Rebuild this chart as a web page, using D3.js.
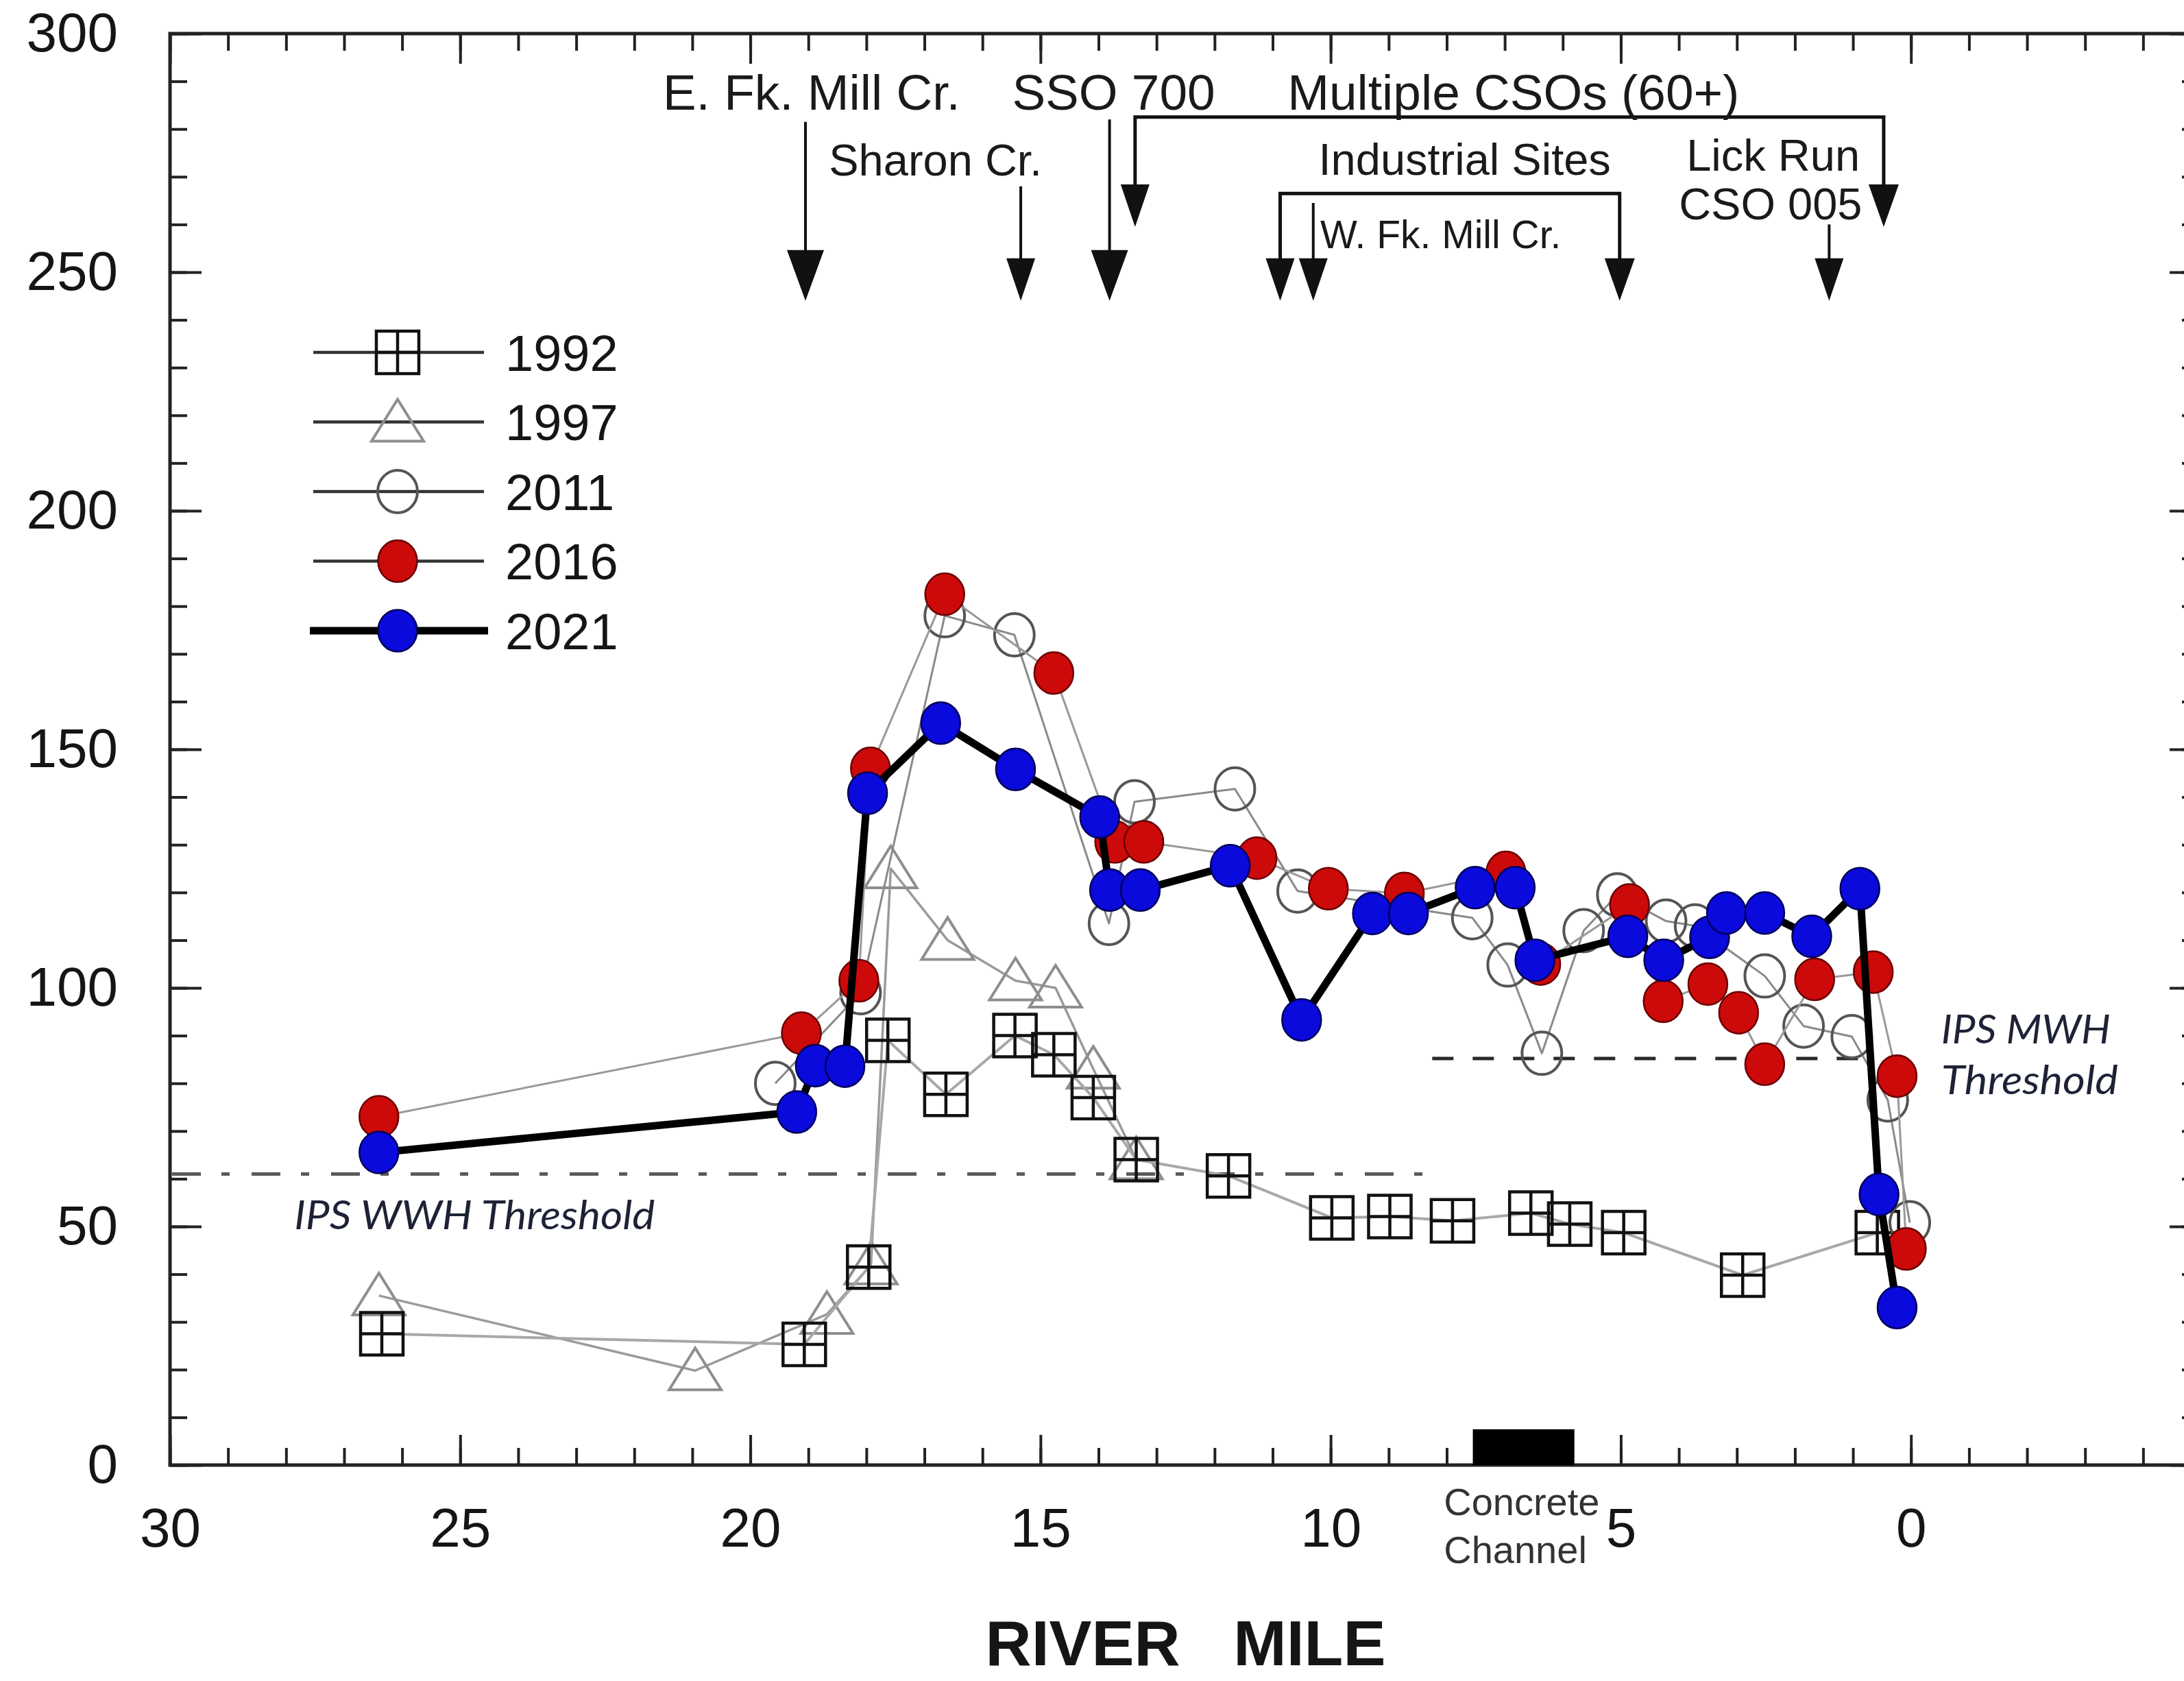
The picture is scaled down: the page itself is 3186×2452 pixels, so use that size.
<!DOCTYPE html>
<html>
<head>
<meta charset="utf-8">
<script src="https://cdn.jsdelivr.net/npm/d3@7"></script>
<style>
  html, body { margin: 0; padding: 0; background: #ffffff; }
  svg { display: block; }
</style>
</head>
<body>
<svg id="chart" width="3186" height="2452"></svg>
<script>
// ---------------- DATA ----------------
const years = ["1992", "1997", "2011", "2016", "2021"];

const mile1992 = [26.35, 19.07, 17.96, 17.63, 16.63, 15.44, 14.77, 14.09, 13.35, 11.76, 9.98, 8.98, 7.90, 6.55, 5.88, 4.95, 2.90, 0.58];
const val1992  = [27.5, 25.3, 41.5, 89.0, 77.7, 90.0, 86.0, 77.0, 64.0, 60.6, 51.8, 52.1, 51.2, 52.8, 50.5, 48.7, 39.8, 48.7];

const mile1997 = [26.40, 20.95, 18.68, 17.92, 17.58, 16.60, 15.43, 14.74, 14.09, 13.35];
const val1997  = [35.5, 19.8, 31.6, 42.0, 125.0, 110.0, 101.5, 100.0, 83.0, 64.0];

const mile2011 = [19.57, 18.10, 16.65, 15.45, 13.82, 13.38, 11.65, 10.57, 7.56, 6.95, 6.36, 5.64, 5.06, 4.22, 3.72, 2.52, 1.85, 1.02, 0.40, 0.02];
const val2011  = [80.0, 99.0, 178.0, 174.0, 113.5, 139.0, 141.7, 120.3, 114.7, 104.8, 86.3, 112.0, 119.5, 114.0, 113.0, 102.5, 92.0, 89.8, 76.5, 50.8];

const mile2016 = [26.40, 19.12, 18.13, 17.93, 16.65, 14.77, 13.72, 13.22, 11.27, 10.04, 8.73, 6.98, 6.38, 4.85, 4.27, 3.50, 2.97, 2.52, 1.66, 0.65, 0.24, 0.08];
const val2016  = [73.0, 90.5, 101.5, 146.0, 182.5, 166.0, 130.6, 130.6, 127.2, 120.8, 119.8, 124.2, 105.0, 117.4, 97.2, 100.8, 94.8, 84.0, 101.8, 103.3, 81.5, 45.3];

const mile2021 = [26.40, 19.20, 18.88, 18.37, 17.98, 16.72, 15.43, 13.98, 13.81, 13.28, 11.73, 10.50, 9.28, 8.66, 7.51, 6.82, 6.48, 4.88, 4.26, 3.47, 3.18, 2.52, 1.71, 0.88, 0.55, 0.24];
const val2021  = [65.5, 74.0, 83.7, 83.6, 140.8, 155.5, 145.8, 135.8, 120.5, 120.5, 125.6, 93.3, 115.6, 115.6, 121.0, 121.0, 105.8, 110.8, 105.8, 110.6, 115.7, 115.7, 110.8, 120.8, 56.7, 33.0];

const xMajorTicks  = [30, 25, 20, 15, 10, 5, 0, -5];
const xTickLabels  = ["30", "25", "20", "15", "10", "5", "0", ""];
const yMajorTicks  = [0, 50, 100, 150, 200, 250, 300];
const yTickLabels  = ["0", "50", "100", "150", "200", "250", "300"];

// annotations (river mile, value)
const arrowLabels = ["E. Fk. Mill Cr.", "Sharon Cr.", "SSO 700", "W. Fk. Mill Cr.", "Lick Run / CSO 005"];
const arrowMiles  = [19.05, 15.34, 13.81, 10.30, 1.41];
const arrowTops   = [281.5, 268.0, 282.0, 264.5, 260.0];
const arrowTip    = 244;

const bracketLabels = ["Multiple CSOs (60+)", "Industrial Sites"];
const bracketLeft   = [13.37, 10.87];
const bracketRight  = [0.47, 5.02];
const bracketTop    = [282.5, 266.5];
const bracketTip    = [259.5, 244.0];

const noteTexts = ["E. Fk. Mill Cr.", "SSO 700", "Multiple CSOs (60+)", "Sharon Cr.", "Industrial Sites", "W. Fk. Mill Cr.", "Lick Run", "CSO 005"];
const noteMiles = [18.945, 13.74, 6.85, 16.81, 7.69, 10.18, 2.375, 2.42];
const noteVals  = [284.0, 284.0, 284.0, 270.3, 270.4, 255.0, 271.3, 261.0];

const wwhThreshold = 61;     // IPS WWH
const wwhRange = [30, 8.25];
const mwhThreshold = 85.2;   // IPS MWH
const mwhRange = [8.25, 0.72];

const concreteRange = [7.55, 5.8];
const concreteHeight = 7.5;

// ---------------- SETUP ----------------
const svg = d3.select("#chart");
const FONT = "'Liberation Sans', Arial, Helvetica, sans-serif";
const x = d3.scaleLinear().domain([30, -5]).range([248, 3211]);
const y = d3.scaleLinear().domain([0, 300]).range([2137, 49]);
const axisColor = "#222";

svg.append("rect").attr("width", 3186).attr("height", 2452).attr("fill", "#fff");

function styleAxis(g) {
  g.select(".domain").remove();
  g.selectAll(".tick line").attr("stroke", axisColor).attr("stroke-width", 4);
  g.selectAll(".tick text").attr("fill", "#151515").attr("font-family", FONT).attr("font-size", 80);
}

const minorX = d3.range(-5, 31, 1);
const minorY = d3.range(0, 301, 10);

// bottom
svg.append("g").attr("transform", `translate(0,${y(0)})`)
  .call(d3.axisBottom(x).tickValues(minorX).tickSize(-25).tickFormat("")).call(styleAxis);
svg.append("g").attr("transform", `translate(0,${y(0)})`)
  .call(d3.axisBottom(x).tickValues(xMajorTicks).tickSize(-44).tickPadding(62)
        .tickFormat((d, i) => xTickLabels[i])).call(styleAxis);
// top
svg.append("g").attr("transform", `translate(0,${y(300)})`)
  .call(d3.axisTop(x).tickValues(minorX).tickSize(-25).tickFormat("")).call(styleAxis);
svg.append("g").attr("transform", `translate(0,${y(300)})`)
  .call(d3.axisTop(x).tickValues(xMajorTicks).tickSize(-44).tickFormat("")).call(styleAxis);
// left
svg.append("g").attr("transform", `translate(${x(30)},0)`)
  .call(d3.axisLeft(y).tickValues(minorY).tickSize(-25).tickFormat("")).call(styleAxis);
svg.append("g").attr("transform", `translate(${x(30)},0)`)
  .call(d3.axisLeft(y).tickValues(yMajorTicks).tickSize(-46).tickPadding(76)
        .tickFormat((d, i) => yTickLabels[i])).call(styleAxis);
// right
svg.append("g").attr("transform", `translate(${x(-5)},0)`)
  .call(d3.axisRight(y).tickValues(minorY).tickSize(-28).tickFormat("")).call(styleAxis);
svg.append("g").attr("transform", `translate(${x(-5)},0)`)
  .call(d3.axisRight(y).tickValues(yMajorTicks).tickSize(-46).tickFormat("")).call(styleAxis);

// frame
svg.append("rect")
  .attr("x", x(30)).attr("y", y(300))
  .attr("width", x(-5) - x(30)).attr("height", y(0) - y(300))
  .attr("fill", "none").attr("stroke", axisColor).attr("stroke-width", 5);

// concrete channel bar
svg.append("rect")
  .attr("x", x(concreteRange[0])).attr("y", y(concreteHeight))
  .attr("width", x(concreteRange[1]) - x(concreteRange[0]))
  .attr("height", y(0) - y(concreteHeight))
  .attr("fill", "#000");
svg.append("text").attr("x", x(8.05)).attr("y", y(-10.5))
  .attr("font-family", FONT).attr("font-size", 56).attr("fill", "#333").text("Concrete");
svg.append("text").attr("x", x(8.05)).attr("y", y(-20.5))
  .attr("font-family", FONT).attr("font-size", 56).attr("fill", "#333").text("Channel");

// axis title
svg.append("text").attr("x", (x(30) + x(-5)) / 2).attr("y", 2429)
  .attr("text-anchor", "middle").attr("font-family", FONT).attr("font-weight", "bold")
  .attr("font-size", 93).attr("fill", "#151515").style("white-space", "pre")
  .text("RIVER   MILE");

// ---------------- THRESHOLDS ----------------
svg.append("line")
  .attr("x1", x(wwhRange[0]) + 3).attr("x2", x(wwhRange[1]))
  .attr("y1", y(wwhThreshold)).attr("y2", y(wwhThreshold))
  .attr("stroke", "#5a5a5a").attr("stroke-width", 5).attr("stroke-dasharray", "42,30,12,32");
svg.append("line")
  .attr("x1", x(mwhRange[0])).attr("x2", x(mwhRange[1]))
  .attr("y1", y(mwhThreshold)).attr("y2", y(mwhThreshold))
  .attr("stroke", "#2a2a2a").attr("stroke-width", 5).attr("stroke-dasharray", "31,28");

const ITF = "Lato, 'Open Sans', 'Noto Sans', sans-serif";
svg.append("text").attr("x", x(27.86)).attr("y", y(49.4))
  .attr("font-family", ITF).attr("font-style", "italic").attr("font-size", 58)
  .attr("fill", "#1e2236").attr("textLength", 526).attr("lengthAdjust", "spacingAndGlyphs")
  .text("IPS WWH Threshold");
svg.append("text").attr("x", x(-0.52)).attr("y", y(88.3))
  .attr("font-family", ITF).attr("font-style", "italic").attr("font-size", 58)
  .attr("fill", "#1e2236").attr("textLength", 247).attr("lengthAdjust", "spacingAndGlyphs")
  .text("IPS MWH");
svg.append("text").attr("x", x(-0.52)).attr("y", y(77.7))
  .attr("font-family", ITF).attr("font-style", "italic").attr("font-size", 58)
  .attr("fill", "#1e2236").attr("textLength", 258).attr("lengthAdjust", "spacingAndGlyphs")
  .text("Threshold");

// ---------------- ANNOTATIONS ----------------
const annoColor = "#111";
const ann = svg.append("g");
function arrowHead(mx, tipVal, w, len) {
  const tx = x(mx), ty = y(tipVal);
  ann.append("path")
    .attr("d", `M${tx - w / 2},${ty - len} L${tx + w / 2},${ty - len} L${tx},${ty} Z`)
    .attr("fill", annoColor);
}
arrowMiles.forEach((m, i) => {
  const big = (i === 0 || i === 2);
  ann.append("line").attr("x1", x(m)).attr("x2", x(m))
    .attr("y1", y(arrowTops[i])).attr("y2", y(arrowTip) - 20)
    .attr("stroke", annoColor).attr("stroke-width", 4);
  arrowHead(m, arrowTip, big ? 54 : 42, big ? 74 : 62);
});
bracketLeft.forEach((l, i) => {
  const r = bracketRight[i];
  ann.append("path")
    .attr("d", `M${x(l)},${y(bracketTip[i]) - 20} L${x(l)},${y(bracketTop[i])} L${x(r)},${y(bracketTop[i])} L${x(r)},${y(bracketTip[i]) - 20}`)
    .attr("fill", "none").attr("stroke", annoColor).attr("stroke-width", 5);
  arrowHead(l, bracketTip[i], 42, 62);
  arrowHead(r, bracketTip[i], 44, 62);
});
const noteSizes = [73, 73, 73, 65, 65, 57, 65, 65];
noteTexts.forEach((t, i) => {
  ann.append("text").attr("x", x(noteMiles[i])).attr("y", y(noteVals[i]))
    .attr("text-anchor", i === 5 ? "start" : "middle")
    .attr("font-family", FONT).attr("font-size", noteSizes[i]).attr("fill", "#1a1a1a")
    .text(t);
});

// ---------------- SERIES ----------------
const series = [
  { year: "1997", miles: mile1997, vals: val1997 },
  { year: "1992", miles: mile1992, vals: val1992 },
  { year: "2011", miles: mile2011, vals: val2011 },
  { year: "2016", miles: mile2016, vals: val2016 },
  { year: "2021", miles: mile2021, vals: val2021 }
];
const lineStyle = {
  "1992": { stroke: "#a8a8a8", width: 4 },
  "1997": { stroke: "#9a9a9a", width: 3.5 },
  "2011": { stroke: "#8a8a8a", width: 3 },
  "2016": { stroke: "#999999", width: 3 },
  "2021": { stroke: "#000000", width: 11 }
};

function drawMarker(g, year, cx, cy) {
  if (year === "1992") {
    const h = 31;
    g.append("path")
      .attr("d", `M${cx - h},${cy - h}h${2 * h}v${2 * h}h${-2 * h}Z M${cx},${cy - h}v${2 * h} M${cx - h},${cy}h${2 * h}`)
      .attr("fill", "none").attr("stroke", "#111").attr("stroke-width", 4.5);
  } else if (year === "1997") {
    g.append("path")
      .attr("d", `M${cx},${cy - 33} L${cx + 38},${cy + 28} L${cx - 38},${cy + 28} Z`)
      .attr("fill", "none").attr("stroke", "#8e8e8e").attr("stroke-width", 4);
  } else if (year === "2011") {
    g.append("ellipse").attr("cx", cx).attr("cy", cy).attr("rx", 29).attr("ry", 31)
      .attr("fill", "none").attr("stroke", "#555").attr("stroke-width", 4);
  } else if (year === "2016") {
    g.append("ellipse").attr("cx", cx).attr("cy", cy).attr("rx", 28.5).attr("ry", 30.5)
      .attr("fill", "#cc0a0a").attr("stroke", "#6a0000").attr("stroke-width", 2.5);
  } else {
    g.append("ellipse").attr("cx", cx).attr("cy", cy).attr("rx", 28.5).attr("ry", 30.5)
      .attr("fill", "#0a0adc").attr("stroke", "#00005a").attr("stroke-width", 2.5);
  }
}

const lineGen = d3.line().x(d => x(d[0])).y(d => y(d[1]));
series.forEach(s => {
  const pts = s.miles.map((m, i) => [m, s.vals[i]]);
  const g = svg.append("g");
  g.append("path").attr("d", lineGen(pts))
    .attr("fill", "none").attr("stroke", lineStyle[s.year].stroke)
    .attr("stroke-width", lineStyle[s.year].width).attr("stroke-linejoin", "round");
  pts.forEach(p => drawMarker(g, s.year, x(p[0]), y(p[1])));
});

// ---------------- LEGEND ----------------
const leg = svg.append("g");
years.forEach((yr, i) => {
  const ly = 514 + i * 101.5;
  const thick = yr === "2021";
  leg.append("line")
    .attr("x1", thick ? 452 : 457).attr("x2", thick ? 712 : 706)
    .attr("y1", ly).attr("y2", ly)
    .attr("stroke", thick ? "#000" : "#333").attr("stroke-width", thick ? 11 : 4.5);
  drawMarker(leg, yr, 580, ly);
  leg.append("text").attr("x", 737).attr("y", ly).attr("dy", "0.36em")
    .attr("font-family", FONT).attr("font-size", 74).attr("fill", "#151515").text(yr);
});
</script>
</body>
</html>
